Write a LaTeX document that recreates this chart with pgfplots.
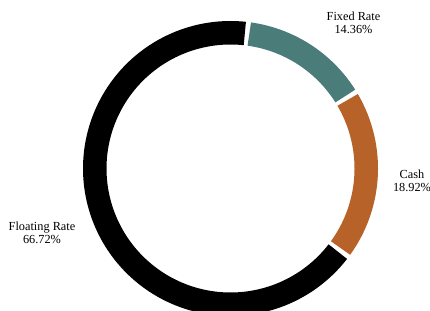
\documentclass[border=0pt]{standalone}
\usepackage{pgfplots}
\usepackage{pgfplotstable}
\pgfplotsset{compat=1.18}
\usepackage{fontspec}
\setmainfont{Liberation Serif}
\definecolor{cfloat}{RGB}{0,0,0}
\definecolor{cfixed}{RGB}{74,124,122}
\definecolor{ccash}{RGB}{183,98,40}
\pgfplotstableread{
label value
Fixed 14.36
Cash 18.92
Floating 66.72
}\shares
\begin{document}
\begin{tikzpicture}
\pgfplotstablegetelem{0}{value}\of\shares \let\vfixed\pgfplotsretval
\pgfplotstablegetelem{1}{value}\of\shares \let\vcash\pgfplotsretval
\pgfplotstablegetelem{2}{value}\of\shares \let\vfloat\pgfplotsretval
\pgfmathsetmacro{\start}{83}
\pgfmathsetmacro{\hg}{0.95}
\pgfmathsetmacro{\aA}{\start}
\pgfmathsetmacro{\aB}{\aA-3.6*\vfixed}
\pgfmathsetmacro{\aC}{\aB-3.6*\vcash}
\pgfmathsetmacro{\aD}{\aC-3.6*\vfloat}
\pgfmathsetmacro{\fixlo}{\aB+\hg}\pgfmathsetmacro{\fixhi}{\aA-\hg}
\pgfmathsetmacro{\cashlo}{\aC+\hg}\pgfmathsetmacro{\cashhi}{\aB-\hg}
\pgfmathsetmacro{\fltlo}{\aD+\hg}\pgfmathsetmacro{\flthi}{\aC-\hg}
\begin{axis}[
  scale only axis, width=430pt, height=310pt,
  xmin=0, xmax=430, ymin=0, ymax=310,
  hide axis, clip=true,
]
\coordinate (bl) at (rel axis cs:0,0);
\coordinate (tr) at (rel axis cs:1,1);
\addplot[cfixed, line width=23.5pt, domain=\fixlo:\fixhi, samples=60, mark=none]
  ({230.5+135.75*cos(x)},{141.5+135.75*sin(x)});
\addplot[ccash, line width=23.5pt, domain=\cashlo:\cashhi, samples=60, mark=none]
  ({230.5+135.75*cos(x)},{141.5+135.75*sin(x)});
\addplot[cfloat, line width=23.5pt, domain=\fltlo:\flthi, samples=200, mark=none]
  ({230.5+135.75*cos(x)},{141.5+135.75*sin(x)});
\node[align=center, font=\fontsize{12.3}{13.5}\selectfont] at (axis cs:353.5,287) {Fixed Rate\\14.36\%};
\node[align=center, font=\fontsize{12.3}{13.5}\selectfont] at (axis cs:412,129) {Cash\\18.92\%};
\node[align=center, font=\fontsize{12.3}{13.5}\selectfont] at (axis cs:42,77) {Floating Rate\\66.72\%};
\end{axis}
\pgfresetboundingbox
\path[use as bounding box] (bl) rectangle (tr);
\end{tikzpicture}
\end{document}
